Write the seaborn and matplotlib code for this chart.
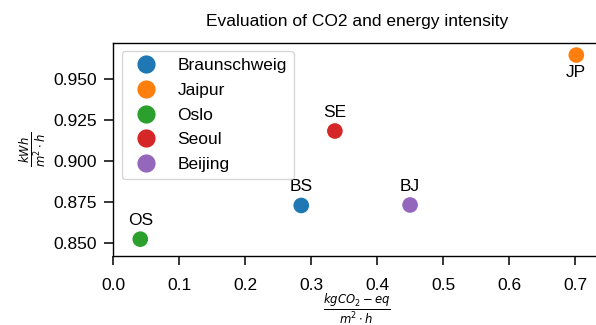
import matplotlib
matplotlib.use('Agg')
import pandas as pd
import matplotlib.pyplot as plt
import seaborn as sns

plt.rcParams['font.family'] = ['Liberation Sans', 'DejaVu Sans']

# Data
cities = ['Braunschweig', 'Jaipur', 'Oslo', 'Seoul', 'Beijing']
codes = ['BS', 'JP', 'OS', 'SE', 'BJ']
co2 = [0.285, 0.702, 0.041, 0.336, 0.450]
energy = [0.8730, 0.9645, 0.8525, 0.9183, 0.8733]

df = pd.DataFrame({'city': cities, 'code': codes, 'co2': co2, 'energy': energy})

fig = plt.figure(figsize=(5.96, 3.25), dpi=100)
ax = fig.add_axes([0.190, 0.212, 0.819, 0.657])

sns.scatterplot(data=df, x='co2', y='energy', hue='city', palette='tab10',
                s=150, ax=ax)

for _, r in df.iterrows():
    if r['code'] == 'JP':
        ax.annotate(r['code'], (r['co2'], r['energy']), xytext=(0, -7),
                    textcoords='offset points', ha='center', va='top', fontsize=12.5)
    else:
        ax.annotate(r['code'], (r['co2'], r['energy']), xytext=(0, 8),
                    textcoords='offset points', ha='center', va='bottom', fontsize=12.5)

ax.set_xlim(0, 0.74)
ax.set_ylim(0.8422, 0.9721)
ax.set_xticks([0.0, 0.1, 0.2, 0.3, 0.4, 0.5, 0.6, 0.7])
ax.set_yticks([0.850, 0.875, 0.900, 0.925, 0.950])
ax.set_yticklabels(['0.850', '0.875', '0.900', '0.925', '0.950'])
ax.tick_params(labelsize=12.5, length=6.5, width=1.1, pad=5)
ax.tick_params(axis='x', pad=9)
for sp in ax.spines.values():
    sp.set_linewidth(1.0)

ax.set_title('Evaluation of CO2 and energy intensity', fontsize=12.5, pad=12)
ax.set_xlabel(r'$\frac{kgCO_2-eq}{m^2 \cdot h}$', fontsize=12, labelpad=0)
ax.set_ylabel(r'$\frac{kWh}{m^2 \cdot h}$', fontsize=12)

ax.legend(loc='upper left', fontsize=12.5, labelspacing=0.55, markerscale=1.15)

fig.savefig('out.png', dpi=100)
